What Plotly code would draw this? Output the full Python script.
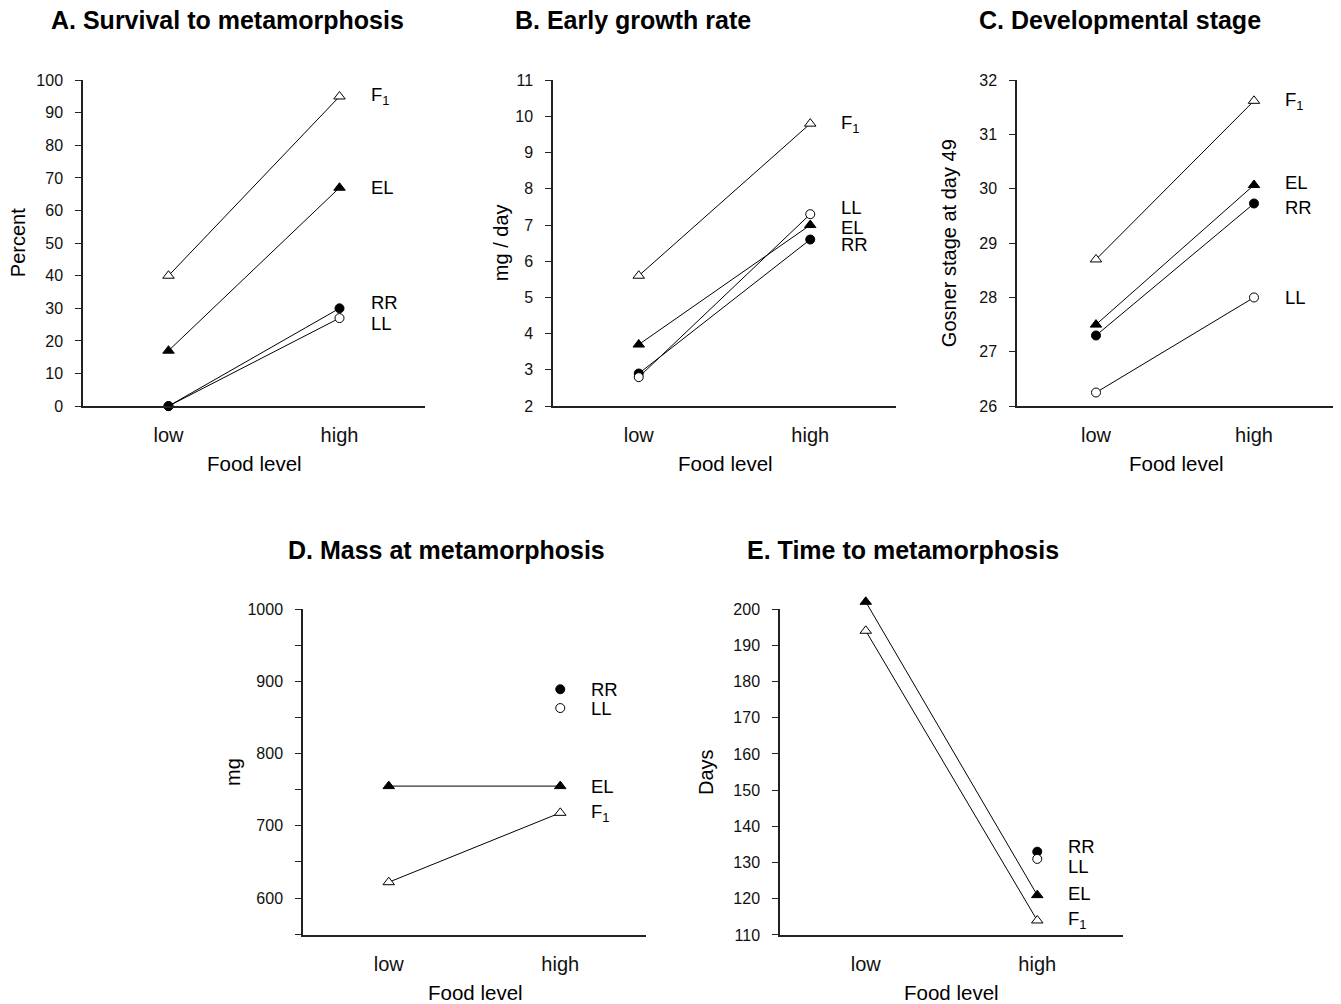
import plotly.graph_objects as go

W, H = 1341, 1004            # target picture size
# the photographed page maps figure row y to picture row 7.8 + 0.9836*y;
# lay out in picture pixels and convert through the inverse of that mapping
SCALE_Y, OFF_Y = 0.9836, 7.8
H_FIG = 1021
FONT = "Liberation Sans, Arial, Helvetica, sans-serif"

food_levels = ["low", "high"]
group_labels = {"F1": "F<sub>1</sub>", "EL": "EL", "RR": "RR", "LL": "LL"}

# A. Survival to metamorphosis (percent)
survival = {"F1": [40, 95], "EL": [17, 67], "LL": [0, 27], "RR": [0, 30]}
# B. Early growth rate (mg / day)
growth = {"F1": [5.6, 9.8], "EL": [3.7, 7.0], "RR": [2.9, 6.6], "LL": [2.8, 7.3]}
# C. Developmental stage (Gosner stage at day 49)
stage = {"F1": [28.7, 31.62], "EL": [27.5, 30.07], "RR": [27.3, 29.73], "LL": [26.25, 28.0]}
# D. Mass at metamorphosis (mg)
mass = {"F1": [622, 718], "EL": [755, 755], "RR": [None, 889], "LL": [None, 863]}
# E. Time to metamorphosis (days)
days = {"F1": [194, 114], "EL": [202, 121], "RR": [None, 133], "LL": [None, 131]}

marker_style = {
    "F1": dict(symbol="triangle-up", size=10, color="white", line=dict(color="black", width=1)),
    "EL": dict(symbol="triangle-up", size=10, color="black", line=dict(color="black", width=1)),
    "RR": dict(symbol="circle", size=9, color="black", line=dict(color="black", width=1)),
    "LL": dict(symbol="circle", size=9, color="white", line=dict(color="black", width=1)),
}

panels = [
    dict(title="A. Survival to metamorphosis", data=survival, ytitle="Percent",
         box=(83, 425, 80, 406), yrange=[0, 100], dtick=10, minor=None, headroom=0,
         title_xy=(227, 20), ytitle_x=18, xtitle_xy=(254, 463),
         shifts={"F1": 0, "EL": 0, "RR": 6, "LL": -5}),
    dict(title="B. Early growth rate", data=growth, ytitle="mg / day",
         box=(553, 896, 80, 406), yrange=[2, 11], dtick=1, minor=None, headroom=0,
         title_xy=(633, 20), ytitle_x=501, xtitle_xy=(725, 463),
         shifts={"F1": 0, "EL": -2, "RR": -5, "LL": 7}),
    dict(title="C. Developmental stage", data=stage, ytitle="Gosner stage at day 49",
         box=(1017, 1333, 80, 406), yrange=[26, 32], dtick=1, minor=None, headroom=0,
         title_xy=(1120, 20), ytitle_x=949, xtitle_xy=(1176, 463),
         shifts={"F1": 0, "EL": 3, "RR": -4, "LL": 0}),
    dict(title="D. Mass at metamorphosis", data=mass, ytitle="mg",
         box=(303, 646, 609, 935), yrange=[549, 1000], dtick=100, minor=50, headroom=0,
         title_xy=(446, 550), ytitle_x=233, xtitle_xy=(475, 993),
         shifts={"F1": 0, "EL": 0, "RR": 0, "LL": 0}),
    dict(title="E. Time to metamorphosis", data=days, ytitle="Days",
         box=(780, 1123, 609, 935), yrange=[110, 200], dtick=10, minor=None, headroom=4,
         title_xy=(903, 550), ytitle_x=706, xtitle_xy=(951, 993),
         shifts={"F1": 0, "EL": 2, "RR": 5, "LL": -8}),
]


def fy(py):
    """target picture pixel row -> paper fraction of the figure"""
    return 1 - ((py - OFF_Y) / SCALE_Y) / H_FIG


def fx(px):
    return px / W


fig = go.Figure()
annotations = []
layout = {}
n = len(panels)

for i, p in enumerate(panels, start=1):
    xa = "x" if i == 1 else f"x{i}"
    ya = "y" if i == 1 else f"y{i}"
    x0, x1, y0, y1 = p["box"]
    lo, hi = p["yrange"]
    if p["headroom"]:
        # hidden axis with identical scale, extended upward so marks above the top tick are drawn
        dj = n + i
        da = f"y{dj}"
        px_per_unit = (y1 - y0) / (hi - lo)
        top_px = y0 - p["headroom"] * px_per_unit
        layout[f"yaxis{dj}"] = dict(
            domain=[fy(y1), fy(top_px)], anchor=xa,
            range=[lo, hi + p["headroom"]], visible=False, fixedrange=True,
            showgrid=False, zeroline=False)
        # empty trace so the visible axis pair is created
        fig.add_trace(go.Scatter(x=food_levels, y=[None, None], xaxis=xa, yaxis=ya,
                                 mode="markers", showlegend=False, hoverinfo="skip"))
    else:
        da = ya
    for g, vals in p["data"].items():   # dict order = drawing order
        fig.add_trace(go.Scatter(
            x=food_levels, y=vals, xaxis=xa, yaxis=da,
            mode="lines+markers", line=dict(color="black", width=1),
            marker=marker_style[g], cliponaxis=False, showlegend=False,
            connectgaps=False, hoverinfo="x+y"))
        annotations.append(dict(
            x=food_levels[1], y=vals[1], xref=xa, yref=da, text=group_labels[g],
            showarrow=False, xanchor="left", yanchor="middle", xshift=29,
            yshift=p["shifts"][g], font=dict(family=FONT, size=18.5, color="black")))
    xkey = "xaxis" if i == 1 else f"xaxis{i}"
    ykey = "yaxis" if i == 1 else f"yaxis{i}"
    layout[xkey] = dict(
        domain=[fx(x0), fx(x1)], anchor=ya, type="category",
        categoryorder="array", categoryarray=food_levels, range=[-0.5, 1.5],
        showline=True, linecolor="#222", linewidth=1.5, ticks="",
        showgrid=False, zeroline=False, ticklabelstandoff=10,
        tickfont=dict(family=FONT, size=20, color="#111"), fixedrange=True)
    ydict = dict(
        domain=[fy(y1), fy(y0)], anchor=xa, range=[lo, hi],
        dtick=p["dtick"], tick0=0, showline=True, linecolor="#222", linewidth=1.5,
        ticks="outside", ticklen=6, tickwidth=1.3, tickcolor="#222",
        showgrid=False, zeroline=False, ticklabelstandoff=9,
        tickfont=dict(family=FONT, size=16, color="#111"), fixedrange=True)
    if p["minor"]:
        ydict["minor"] = dict(dtick=p["minor"], tick0=0, ticks="outside", ticklen=6,
                              tickwidth=1.3, tickcolor="#222", showgrid=False)
    layout[ykey] = ydict
    tx, ty = p["title_xy"]
    annotations.append(dict(
        x=fx(tx), y=fy(ty), xref="paper", yref="paper", text=f"<b>{p['title']}</b>",
        showarrow=False, xanchor="center", yanchor="middle",
        font=dict(family=FONT, size=25, color="black")))
    annotations.append(dict(
        x=fx(p["ytitle_x"]), y=fy((y0 + y1) / 2), xref="paper", yref="paper",
        text=p["ytitle"], textangle=-90, showarrow=False, xanchor="center",
        yanchor="middle", font=dict(family=FONT, size=20, color="black")))
    qx, qy = p["xtitle_xy"]
    annotations.append(dict(
        x=fx(qx), y=fy(qy), xref="paper", yref="paper", text="Food level",
        showarrow=False, xanchor="center", yanchor="middle",
        font=dict(family=FONT, size=20.5, color="black")))

fig.update_layout(
    width=W, height=H_FIG, margin=dict(l=0, r=0, t=0, b=0),
    paper_bgcolor="white", plot_bgcolor="white",
    font=dict(family=FONT, color="black"),
    annotations=annotations, **layout)

fig.write_html("out.html", config={"displayModeBar": False},
               post_script="document.body.style.margin='0';document.body.style.overflow='hidden';")
